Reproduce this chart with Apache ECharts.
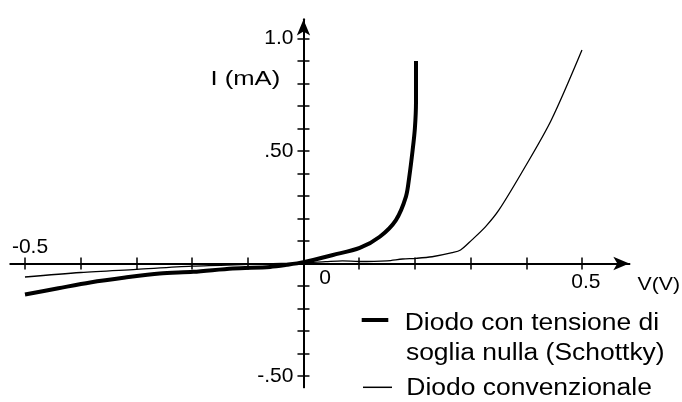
<!DOCTYPE html>
<html>
<head>
<meta charset="utf-8">
<script src="https://cdn.jsdelivr.net/npm/echarts@6/dist/echarts.min.js"></script>
<style>
html,body{margin:0;padding:0;background:#fff;}
#chart{width:682px;height:402px;}
</style>
</head>
<body>
<div id="chart"></div>
<script>
// ---- data ----
var schottkyV = [-0.5, -0.44, -0.383, -0.32, -0.258, -0.198, -0.127, -0.06, -0.03, 0, 0.053, 0.101, 0.137, 0.166, 0.184, 0.19, 0.196, 0.2, 0.202, 0.202];
var schottkyI = [-0.138, -0.11, -0.084, -0.062, -0.044, -0.037, -0.022, -0.015, -0.006, 0.006, 0.038, 0.069, 0.119, 0.193, 0.297, 0.386, 0.504, 0.6, 0.712, 0.9];
var convV = [-0.5, -0.4, -0.3, -0.2, -0.1, -0.04, 0, 0.04, 0.07, 0.1, 0.15, 0.178, 0.202, 0.231, 0.267, 0.282, 0.302, 0.327, 0.351, 0.398, 0.445, 0.5];
var convI = [-0.06, -0.04, -0.026, -0.012, -0.004, 0, 0.002, 0.008, 0.012, 0.009, 0.012, 0.02, 0.023, 0.03, 0.048, 0.06, 0.104, 0.164, 0.238, 0.43, 0.638, 0.949];

var xTicks = [-0.5, -0.4, -0.3, -0.2, -0.1, 0, 0.1, 0.2, 0.3, 0.4, 0.5];
var yTicks = [-0.5, -0.4, -0.3, -0.2, -0.1, 0.1, 0.2, 0.3, 0.4, 0.5, 0.6, 0.7, 0.8, 0.9, 1.0];
var xLabelBelowValues = [0, 0.5];
var xLabelBelowTexts = ['0', '0.5'];
var xLabelAboveValues = [-0.5];
var xLabelAboveTexts = ['-0.5'];
var yLabelValues = [-0.5, 0.5, 1.0];
var yLabelTexts = ['-.50', '.50', '1.0'];

var xName = 'V(V)';
var yName = 'I (mA)';
var legendLines1 = ['Diodo con tensione di', 'soglia nulla (Schottky)'];
var legendText2 = 'Diodo convenzionale';

function zip(a, b) { return a.map(function (v, i) { return [v, b[i]]; }); }
function lookup(vals, texts, v) {
  for (var i = 0; i < vals.length; i++) if (Math.abs(vals[i] - v) < 1e-9) return texts[i];
  return '';
}

var FONT = '"Liberation Sans", Arial, Helvetica, sans-serif';
var GRID = { left: 10.5, right: 52.7, top: 19.4, bottom: 14.75 };
var W = 682, H = 402;
var lineSt = { color: '#000', width: 2 };
var tickSt = { color: '#000', width: 1.5 };
var LFS = 21;

var chart = echarts.init(document.getElementById('chart'), null, { renderer: 'canvas' });
chart.setOption({
  animation: false,
  backgroundColor: '#fff',
  grid: { left: GRID.left, right: GRID.right, top: GRID.top, bottom: GRID.bottom, containLabel: false, outerBoundsMode: 'none' },
  xAxis: [
    {
      type: 'value', min: -0.526, max: 0.585, position: 'bottom', offset: 0,
      axisLine: { onZero: false, lineStyle: lineSt, symbol: ['none', 'arrow'], symbolSize: [10, 16] },
      axisTick: { show: true, customValues: xTicks, length: 6, lineStyle: tickSt },
      axisLabel: {
        customValues: xLabelBelowValues, margin: 4, color: '#000', fontFamily: FONT, fontSize: LFS,
        formatter: function (v) {
          var t = lookup(xLabelBelowValues, xLabelBelowTexts, v);
          return Math.abs(v) < 1e-9 ? '{z|' + t + '}' : '{h|' + t + '}';
        },
        rich: {
          z: { fontFamily: FONT, fontSize: LFS, color: '#000', lineHeight: 21, padding: [0, 0, 0, 43] },
          h: { fontFamily: FONT, fontSize: LFS, color: '#000', lineHeight: 29, padding: [0, 0, 0, 8] }
        }
      },
      splitLine: { show: false }
    },
    {
      type: 'value', min: -0.526, max: 0.585, position: 'top', offset: 0,
      axisLine: { onZero: false, lineStyle: lineSt },
      axisTick: { show: true, customValues: xTicks, length: 6, lineStyle: tickSt },
      axisLabel: {
        customValues: xLabelAboveValues, margin: 5.5, color: '#000', fontFamily: FONT, fontSize: LFS,
        formatter: function (v) { return '{a|' + lookup(xLabelAboveValues, xLabelAboveTexts, v) + '}'; },
        rich: { a: { fontFamily: FONT, fontSize: LFS, color: '#000', lineHeight: 21, padding: [0, 0, 0, 10] } }
      },
      splitLine: { show: false }
    }
  ],
  yAxis: [
    {
      type: 'value', min: -0.55, max: 1.085, position: 'left', offset: 0,
      axisLine: { onZero: false, lineStyle: lineSt, symbol: ['none', 'arrow'], symbolSize: [10, 16] },
      axisTick: { show: true, customValues: yTicks, length: 6, lineStyle: tickSt },
      axisLabel: {
        customValues: yLabelValues, margin: 10, color: '#000', fontFamily: FONT, fontSize: LFS,
        formatter: function (v) { return lookup(yLabelValues, yLabelTexts, v); }
      },
      splitLine: { show: false }
    },
    {
      type: 'value', min: -0.55, max: 1.085, position: 'right', offset: 0,
      axisLine: { onZero: false, lineStyle: lineSt },
      axisTick: { show: true, customValues: yTicks, length: 6, lineStyle: tickSt },
      axisLabel: { show: false },
      splitLine: { show: false }
    }
  ],
  series: [
    {
      name: legendText2, type: 'line', xAxisIndex: 0, yAxisIndex: 0,
      data: zip(convV, convI), symbol: 'none', smooth: 0.3,
      lineStyle: { color: '#000', width: 1.3 }
    },
    {
      name: legendLines1.join(' '), type: 'line', xAxisIndex: 0, yAxisIndex: 0,
      data: zip(schottkyV, schottkyI), symbol: 'none', smooth: 0.3,
      lineStyle: { color: '#000', width: 4 }
    }
  ],
  graphic: [
    { type: 'text', x: 210.5, y: 79.5, scaleX: 1.28, style: { text: yName, font: '20px ' + FONT, fill: '#000', textAlign: 'left', textVerticalAlign: 'middle' } },
    { type: 'text', x: 637.5, y: 284.5, scaleX: 1.12, style: { text: xName, font: '19px ' + FONT, fill: '#000', textAlign: 'left', textVerticalAlign: 'middle' } },
    { type: 'line', shape: { x1: 361.7, y1: 320, x2: 388.3, y2: 320 }, style: { stroke: '#000', lineWidth: 4 } },
    { type: 'text', x: 404.7, y: 323.3, scaleX: 1.15, style: { text: legendLines1[0], font: '23px ' + FONT, fill: '#000', textAlign: 'left', textVerticalAlign: 'middle' } },
    { type: 'text', x: 405.9, y: 353.8, scaleX: 1.15, style: { text: legendLines1[1], font: '23px ' + FONT, fill: '#000', textAlign: 'left', textVerticalAlign: 'middle' } },
    { type: 'line', shape: { x1: 363, y1: 387.3, x2: 392, y2: 387.3 }, style: { stroke: '#000', lineWidth: 1.5 } },
    { type: 'text', x: 406.3, y: 389, scaleX: 1.15, style: { text: legendText2, font: '23px ' + FONT, fill: '#000', textAlign: 'left', textVerticalAlign: 'middle' } }
  ]
});

// Move the axes so that they cross at the origin (value 0 on the other axis).
var origin = chart.convertToPixel({ xAxisIndex: 0, yAxisIndex: 0 }, [0, 0]);
var gx = GRID.left, gy = GRID.top, gr = W - GRID.right, gb = H - GRID.bottom;
chart.setOption({
  xAxis: [{ offset: origin[1] - gb }, { offset: gy - origin[1] }],
  yAxis: [{ offset: gx - origin[0] }, { offset: origin[0] - gr }]
});
</script>
</body>
</html>
